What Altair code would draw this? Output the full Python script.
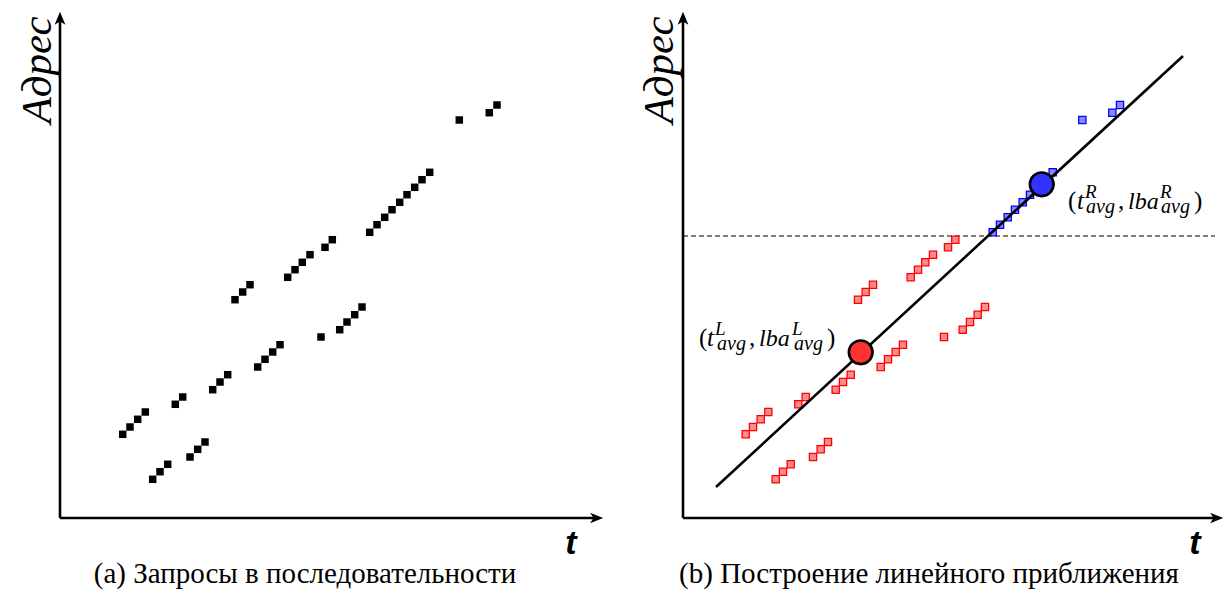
import altair as alt
import pandas as pd

# ---- data (t = time, a = address) ----
req_t = [62.7, 70, 77.7, 85.3,
         92.7, 100, 107.7,
         130, 137.7, 145,
         115.3, 122.7,
         152.7, 160, 167.7,
         197.7, 205, 212.7, 220,
         261,
         279.7, 287, 294.7, 302,
         175, 182.7, 190,
         227.7, 235, 242.3, 250,
         265, 272.3,
         309.7, 317, 324.7, 332, 339.7, 347, 354.7, 362, 369.7,
         399.3,
         429.3, 437]
req_a = [83.7, 91, 98.7, 106,
         38.7, 46.3, 53.7,
         61, 68.7, 76,
         113.7, 121,
         128.3, 136, 143.3,
         151, 158.7, 166, 173.3,
         181,
         188.3, 196, 203.3, 211,
         218.3, 226, 233.3,
         240.7, 248.3, 255.7, 263.3,
         270.7, 278.3,
         285.7, 293.3, 300.7, 308.3, 315.7, 323.3, 330.7, 338.3, 345.7,
         398,
         405.3, 413]

threshold_a = 282          # dashed split line
avg_t = [177.7, 358.7]     # (t_avg^L, t_avg^R)
avg_a = [165.7, 333.7]     # (lba_avg^L, lba_avg^R)
avg_side = ["L", "R"]
fit_t = [33, 500]          # ends of the fitted line
fit_a = [31, 462]

captions = ["(a) Запросы в последовательности", "(b) Построение линейного приближения"]
axis_y_title = "Адрес"
axis_x_title = "t"

pts = pd.DataFrame({"t": req_t, "a": req_a})

H = 589
ARROW = "M0,-1L0.8,0.95L0,0.45L-0.8,0.95Z"
SERIF = "Liberation Serif"


def scales(dom_x):
    xs = alt.Scale(domain=dom_x, nice=False, zero=False)
    ys = alt.Scale(domain=[-71, 518], nice=False, zero=False)
    return xs, ys


def axes_layers(xs, ys, x_tip, y_tip):
    ax = pd.DataFrame({"t": [0, 0], "a": [0, 0], "t2": [x_tip - 8, 0], "a2": [0, y_tip - 8]})
    rules = alt.Chart(ax).mark_rule(color="black", strokeWidth=2.6).encode(
        x=alt.X("t:Q", scale=xs, axis=None), y=alt.Y("a:Q", scale=ys, axis=None),
        x2="t2:Q", y2="a2:Q")
    heads = pd.DataFrame({"t": [x_tip - 6.5, 0], "a": [0, y_tip - 6.5], "ang": [90, 0]})
    hd = alt.Chart(heads).mark_point(shape=ARROW, filled=True, color="black", opacity=1, size=180,
                                     strokeWidth=0).encode(
        x=alt.X("t:Q", scale=xs, axis=None), y=alt.Y("a:Q", scale=ys, axis=None),
        angle=alt.Angle("ang:Q", scale=None))
    return rules + hd


def titles_layers(xs, ys, y_lab_t, x_lab_t, cap_t, cap):
    ylab = alt.Chart(pd.DataFrame({"t": [y_lab_t], "a": [448], "s": [axis_y_title]})).mark_text(
        angle=270, font=SERIF, fontStyle="italic", fontSize=43, align="center",
        baseline="middle", color="black").encode(
        x=alt.X("t:Q", scale=xs, axis=None), y=alt.Y("a:Q", scale=ys, axis=None), text="s:N")
    xlab = alt.Chart(pd.DataFrame({"t": [x_lab_t], "a": [-36], "s": [axis_x_title]})).mark_text(
        font="Liberation Sans", fontStyle="italic", fontWeight="bold", fontSize=34, align="center",
        baseline="alphabetic", color="black").encode(
        x=alt.X("t:Q", scale=xs, axis=None), y=alt.Y("a:Q", scale=ys, axis=None), text="s:N")
    capt = alt.Chart(pd.DataFrame({"t": [cap_t], "a": [-65], "s": [cap]})).mark_text(
        font=SERIF, fontSize=29, align="center", baseline="alphabetic",
        color="black").encode(
        x=alt.X("t:Q", scale=xs, axis=None), y=alt.Y("a:Q", scale=ys, axis=None), text="s:N")
    return ylab + xlab + capt


# ---- panel (a) ----
xsA, ysA = scales([-60, 552])
sqA = alt.Chart(pts).mark_point(shape="square", filled=True, color="black", opacity=1,
                                size=56, strokeWidth=0).encode(
    x=alt.X("t:Q", scale=xsA, axis=None), y=alt.Y("a:Q", scale=ysA, axis=None))
panelA = alt.layer(axes_layers(xsA, ysA, 543, 506), sqA,
                   titles_layers(xsA, ysA, -22, 511, 245, captions[0])).properties(width=612, height=H)

# ---- panel (b) ----
xsB, ysB = scales([-71, 542])
sqB = alt.Chart(pts).transform_calculate(
    side=f"datum.a > {threshold_a} ? 'R' : 'L'").mark_point(
    shape="square", filled=True, size=52, strokeWidth=1.3, opacity=1).encode(
    x=alt.X("t:Q", scale=xsB, axis=None), y=alt.Y("a:Q", scale=ysB, axis=None),
    fill=alt.Fill("side:N", scale=alt.Scale(domain=["L", "R"], range=["#ff8a8a", "#8a8aff"]), legend=None),
    stroke=alt.Stroke("side:N", scale=alt.Scale(domain=["L", "R"], range=["#ff0000", "#0000ff"]), legend=None))
dash = alt.Chart(pd.DataFrame({"t": [0], "t2": [532], "a": [threshold_a]})).mark_rule(
    color="black", strokeWidth=1.1, strokeDash=[5, 3]).encode(
    x=alt.X("t:Q", scale=xsB, axis=None), x2="t2:Q", y=alt.Y("a:Q", scale=ysB, axis=None))
fit = alt.Chart(pd.DataFrame({"t": fit_t, "a": fit_a})).mark_line(color="black", strokeWidth=2.6).encode(
    x=alt.X("t:Q", scale=xsB, axis=None), y=alt.Y("a:Q", scale=ysB, axis=None))
avg = alt.Chart(pd.DataFrame({"t": avg_t, "a": avg_a, "side2": avg_side})).mark_point(
    shape="circle", filled=True, size=560, stroke="black", strokeWidth=2.6, opacity=1).encode(
    x=alt.X("t:Q", scale=xsB, axis=None), y=alt.Y("a:Q", scale=ysB, axis=None),
    fill=alt.Fill("side2:N", scale=alt.Scale(domain=["L", "R"], range=["#ff3333", "#3333ff"]), legend=None))

lab_t = [16, 24, 32, 34, 66, 76, 109, 111, 144,
         385, 394, 402, 403, 435, 445, 477, 478, 511]
lab_a = [172, 172, 183, 168, 172, 172, 183, 168, 172,
         309, 309, 320, 305, 309, 309, 320, 305, 309]
lab_s = ["(", "t", "L", "avg", ",", "lba", "L", "avg", ")",
         "(", "t", "R", "avg", ",", "lba", "R", "avg", ")"]
lab_fs = [25, 25, 19, 20, 25, 24, 19, 20, 25,
          25, 25, 19, 20, 25, 24, 19, 20, 25]
lab_it = ["normal", "italic", "italic", "italic", "normal", "italic", "italic", "italic", "normal"] * 2
labs = pd.DataFrame({"t": lab_t, "a": lab_a, "s": lab_s, "fs": lab_fs, "it": lab_it})
labB = alt.Chart(labs).mark_text(font=SERIF, align="left", baseline="alphabetic",
                                 color="black").encode(
    x=alt.X("t:Q", scale=xsB, axis=None), y=alt.Y("a:Q", scale=ysB, axis=None), text="s:N",
    size=alt.Size("fs:Q", scale=None, legend=None))
labB_it = labB.transform_filter("datum.it == 'italic'").mark_text(
    font=SERIF, fontStyle="italic", align="left", baseline="alphabetic", color="black")
labB_up = labB.transform_filter("datum.it == 'normal'")

panelB = alt.layer(axes_layers(xsB, ysB, 540, 506), dash, sqB, fit, avg, labB_it, labB_up,
                   titles_layers(xsB, ysB, -23, 512, 246, captions[1])).resolve_scale(
    fill="independent", stroke="independent").properties(width=613, height=H)

chart = alt.hconcat(panelA, panelB, spacing=0, padding=0, bounds="flush").configure_view(stroke=None)
chart.save("out.html", embed_options={"renderer": "svg", "actions": False})
